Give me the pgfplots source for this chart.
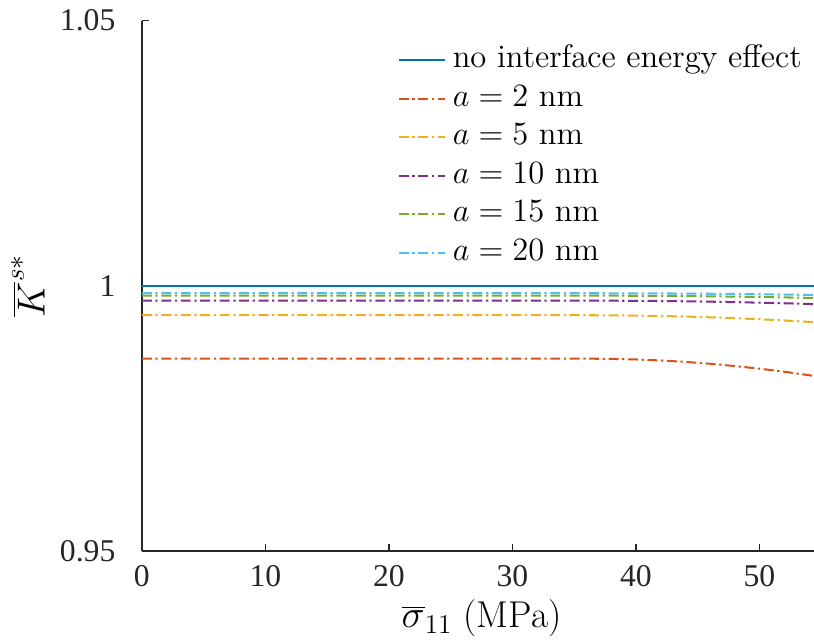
\documentclass[border=0pt]{standalone}
\usepackage{fontspec}
\usepackage{pgfplots}
\pgfplotsset{compat=1.18}
\newfontfamily\timesf{Liberation Serif}
\definecolor{mblue}{rgb}{0,0.447,0.741}
\definecolor{mred}{rgb}{0.85,0.325,0.098}
\definecolor{myellow}{rgb}{0.929,0.694,0.125}
\definecolor{mpurple}{rgb}{0.494,0.184,0.556}
\definecolor{mgreen}{rgb}{0.466,0.674,0.188}
\definecolor{mcyan}{rgb}{0.301,0.745,0.933}
\definecolor{axgray}{rgb}{0.15,0.15,0.15}
\begin{document}
\begin{tikzpicture}
\begin{axis}[
  scale only axis,
  width=300.4pt, height=234.5pt,
  xmin=0, xmax=55, ymin=0.95, ymax=1.05,
  axis x line*=bottom, axis y line*=left,
  axis line style={-, axgray, line width=0.6pt},
  every tick/.style={axgray, line width=0.6pt},
  tick align=inside, major tick length=3.1pt,
  xtick={0,10,20,30,40,50},
  ytick={0.95,1,1.05},
  yticklabels={0.95,1,1.05},
  /pgf/number format/assume math mode=true,
  tick label style={font=\fontsize{14}{16}\selectfont\timesf, text=axgray},
  xticklabel style={yshift=-2.8pt},
  yticklabel style={xshift=-8.2pt},
  xlabel={$\overline{\sigma}_{11}$\ (MPa)},
  ylabel={$\overline{K}^{s*}$},
  label style={font=\fontsize{16.5}{19}\selectfont},
  xlabel style={at={(axis description cs:0.5,-0.1263)}, anchor=center},
  ylabel style={at={(axis description cs:-0.1677,0.5)}, anchor=center},
  clip=true,
  legend cell align=left,
  legend style={at={(0.976,1)}, anchor=north east, yshift=-9.8pt, draw=none, fill=none,
    font=\fontsize{14.4}{17}\selectfont, inner sep=0pt,
    nodes={inner sep=1.2pt, text height=9.5pt, text depth=3pt},
    row sep=2.15pt, column sep=1.6pt},
  legend image code/.code={\draw[#1] (0pt,0pt) -- (20.6pt,0pt);},
  dd/.style={line width=0.9pt, dash pattern=on 4.4pt off 1.6pt on 1pt off 1.6pt},
]
\addplot[mblue, line width=0.9pt] coordinates {(0,1) (55,1)};
\addlegendentry{no interface energy effect}
\addplot[mred, dd] coordinates {
(0,0.98626) (36,0.98626) (38,0.98622) (40,0.98611) (42,0.98592) (44,0.98565)
(46,0.98530) (48,0.98487) (50,0.98437) (52,0.98380) (54,0.98314) (55,0.98278)};
\addlegendentry{$a=2$ nm}
\addplot[myellow, dd] coordinates {
(0,0.99445) (36,0.99445) (38,0.99443) (40,0.99438) (42,0.99431) (44,0.99420)
(46,0.99406) (48,0.99389) (50,0.99369) (52,0.99346) (54,0.99320) (55,0.99306)};
\addlegendentry{$a=5$ nm}
\addplot[mpurple, dd] coordinates {
(0,0.99720) (36,0.99720) (38,0.99719) (40,0.99717) (42,0.99713) (44,0.99708)
(46,0.99701) (48,0.99692) (50,0.99682) (52,0.99671) (54,0.99658) (55,0.99650)};
\addlegendentry{$a=10$ nm}
\addplot[mgreen, dd] coordinates {
(0,0.99814) (36,0.99814) (38,0.99814) (40,0.99812) (42,0.99810) (44,0.99806)
(46,0.99801) (48,0.99796) (50,0.99789) (52,0.99781) (54,0.99773) (55,0.99768)};
\addlegendentry{$a=15$ nm}
\addplot[mcyan, dd] coordinates {
(0,0.99860) (36,0.99860) (38,0.99859) (40,0.99858) (42,0.99856) (44,0.99853)
(46,0.99850) (48,0.99846) (50,0.99841) (52,0.99835) (54,0.99828) (55,0.99825)};
\addlegendentry{$a=20$ nm}
\coordinate (sw) at (rel axis cs:0,0);
\coordinate (ne) at (rel axis cs:1,1);
\end{axis}
\pgfresetboundingbox
\path ([shift={(-62.76pt,-39.36pt)}]sw) rectangle ([shift={(-3.16pt,9.15pt)}]ne);
\end{tikzpicture}
\end{document}
